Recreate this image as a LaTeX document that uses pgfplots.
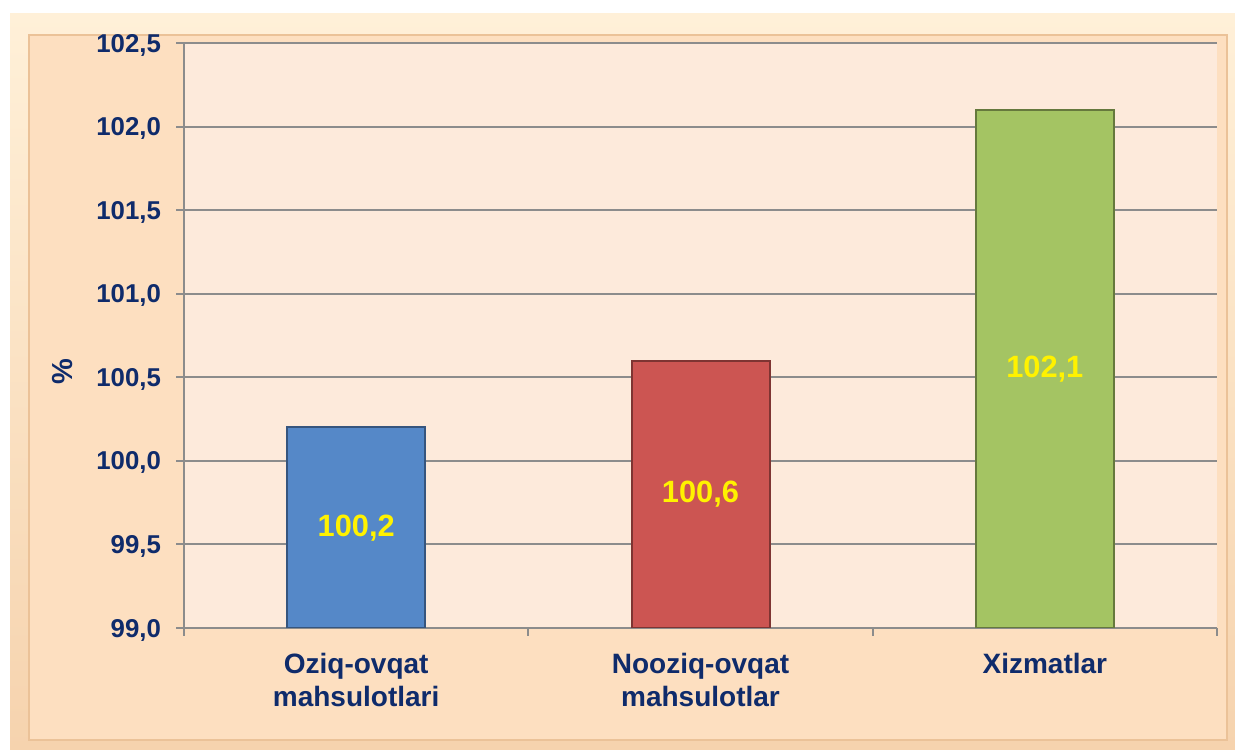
\documentclass[border=0pt]{standalone}
\usepackage{fontspec}
\setmainfont{Liberation Sans}
\usepackage{pgfplots}
\pgfplotsset{compat=1.18}
\definecolor{navy}{HTML}{0F2B6B}
\definecolor{framecol}{HTML}{F6D3AE}
\definecolor{framelight}{HTML}{FFF0D8}
\definecolor{outerbg}{HTML}{FDDFC0}
\definecolor{plotbg}{HTML}{FDEADB}
\definecolor{gridgray}{HTML}{8C8C8C}
\definecolor{cblue}{HTML}{5588C8}
\definecolor{cbluedk}{HTML}{36557E}
\definecolor{cred}{HTML}{CC5552}
\definecolor{creddk}{HTML}{7E3432}
\definecolor{cgreen}{HTML}{A4C463}
\definecolor{cgreendk}{HTML}{66793D}
\begin{document}
\begin{tikzpicture}
\path (0pt,0pt) rectangle (617.5pt,374.5pt);
\shade[top color=framelight, bottom color=framecol] (5pt,0pt) rectangle (617.5pt,367.5pt);
\fill[outerbg] (14.5pt,4.5pt) rectangle (613.5pt,357pt);
\draw[framecol!80!brown, line width=0.6pt] (14.5pt,4.5pt) rectangle (613.5pt,357pt);
\begin{axis}[
  at={(92pt,60.5pt)}, anchor=south west,
  scale only axis, width=516.5pt, height=292.5pt,
  xmin=-0.5, xmax=2.5, ymin=99, ymax=102.5,
  axis background/.style={fill=plotbg},
  axis x line*=bottom, axis y line*=left,
  axis line style={gridgray, line width=1pt, -},
  ytick={99,99.5,...,102.5},
  ymajorgrids, grid style={gridgray, line width=1pt},
  tick align=outside,
  major tick length=4pt,
  major tick style={gridgray, line width=1pt},
  xtick={0,1,2},
  xtick style={draw=none},
  xticklabels={{Oziq-ovqat\\mahsulotlari},{Nooziq-ovqat\\mahsulotlar},{Xizmatlar}},
  extra x ticks={-0.5,0.5,1.5,2.5},
  extra x tick labels={},
  extra x tick style={grid=none, xtick style={draw=gridgray, line width=1pt}},
  /pgf/number format/.cd, use comma, fixed, fixed zerofill, precision=1, assume math mode=true,
  /pgfplots/.cd,
  yticklabel style={font=\bfseries\fontsize{12.9}{14}\selectfont, text=navy, xshift=-4pt, yshift=-1pt},
  xticklabel style={font=\bfseries\fontsize{14}{16.5}\selectfont, text=navy, align=center, yshift=-5pt},
  ylabel={\%},
  ylabel style={at={(axis description cs:-0.118,0.4376)}, anchor=center, font=\bfseries\fontsize{14.5}{16}\selectfont, text=navy},
  ybar, bar width=69pt,
  clip=true,
]
\addplot[bar shift=0pt, fill=cblue, draw=cbluedk, line width=1pt] coordinates {(0,100.2)};
\addplot[bar shift=0pt, fill=cred, draw=creddk, line width=1pt] coordinates {(1,100.6)};
\addplot[bar shift=0pt, fill=cgreen, draw=cgreendk, line width=1pt] coordinates {(2,102.1)};
\addplot[draw=none, fill=none, bar shift=0pt, mark=none, point meta=explicit symbolic,
  nodes near coords,
  every node near coord/.append style={anchor=center, font=\bfseries\fontsize{15.4}{17}\selectfont, text=yellow}]
  coordinates {(0,99.6)[100,2] (1,99.8)[100,6] (2,100.55)[102,1]};
\end{axis}
\end{tikzpicture}
\end{document}
